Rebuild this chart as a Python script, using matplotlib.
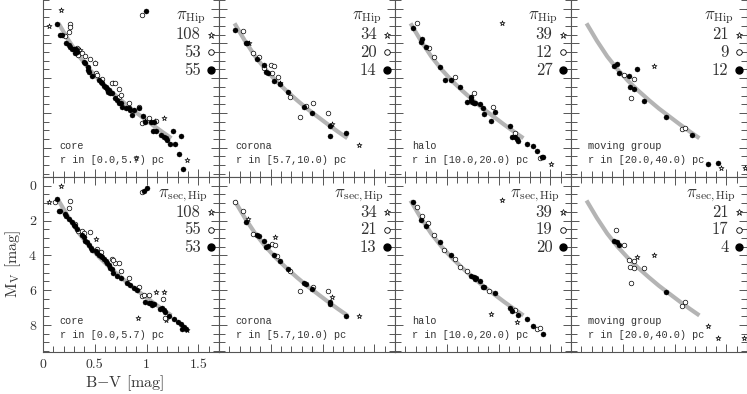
"""
Colour-magnitude diagrams: core / corona / halo / moving group,
top row with Hipparcos parallaxes, bottom row with secular parallaxes.
"""

import numpy as np
import matplotlib
matplotlib.use("Agg")
import matplotlib.pyplot as plt
from matplotlib.ticker import MultipleLocator

plt.rcParams["font.family"] = "serif"
plt.rcParams["font.serif"] = ["cmr10", "DejaVu Serif"]
plt.rcParams["mathtext.fontset"] = "cm"
plt.rcParams["axes.unicode_minus"] = False
plt.rcParams["axes.formatter.use_mathtext"] = True

# ---- reference isochrone (grey curve) ----
ISO_BV = [0.15, 0.25, 0.35, 0.45, 0.55, 0.65, 0.75, 0.85, 0.95, 1.05, 1.15, 1.24]
ISO_MV = [0.85, 1.85, 2.75, 3.50, 4.15, 4.72, 5.25, 5.75, 6.20, 6.65, 7.08, 7.45]

# ---- (B-V, M_V) ----
# top row: pi_Hip
core_hip_fill = [(0.136, 0.89), (0.168, 1.52), (0.18, 1.52), (0.223, 1.97), (0.25, 2.1), (0.265, 2.2),
                 (0.28, 2.35), (0.30, 2.35), (0.32, 2.35), (0.31, 2.57), (0.33, 2.48), (0.395, 3.06),
                 (0.41, 3.11), (0.43, 3.34), (0.437, 3.53), (0.444, 3.63), (0.47, 3.88), (0.54, 4.11),
                 (0.556, 4.2), (0.573, 4.26), (0.59, 4.45), (0.605, 4.53), (0.62, 4.64), (0.64, 4.68),
                 (0.65, 4.84), (0.63, 4.78), (0.67, 4.87), (0.70, 5.16), (0.715, 5.26), (0.73, 5.45),
                 (0.75, 5.45), (0.76, 5.64), (0.80, 5.74), (0.83, 5.74), (0.845, 5.83), (0.877, 5.83),
                 (0.925, 5.7), (0.86, 6.12), (0.968, 6.16), (0.99, 6.5), (1.04, 6.5), (1.07, 6.5),
                 (1.065, 7.04), (1.09, 7.02), (1.136, 7.27), (1.168, 7.4), (1.184, 7.46), (1.2, 7.56),
                 (1.23, 7.79), (1.275, 7.77), (1.26, 7.04), (1.33, 7.33), (1.31, 8.37), (1.35, 9.2),
                 (0.997, 0.14)]
core_hip_open = [(0.265, 0.9), (0.265, 1.05), (0.255, 1.33), (0.21, 1.58), (0.33, 2.25), (0.34, 2.67),
                 (0.38, 2.57), (0.405, 2.73), (0.45, 2.92), (0.505, 3.11), (0.51, 3.72), (0.52, 3.82),
                 (0.566, 4.07), (0.67, 4.26), (0.70, 4.3), (0.735, 4.64), (0.73, 5.07), (0.75, 4.97),
                 (0.83, 5.45), (0.925, 5.64), (0.958, 6.6), (1.02, 6.31), (1.087, 6.47), (0.958, 0.37)]
core_hip_star = [(0.178, 0.1), (0.055, 1.0), (0.50, 3.15), (0.68, 4.3), (1.168, 6.28), (0.90, 8.6),
                 (1.395, 8.7), (0.99, 6.45), (1.078, 6.45), (0.36, 2.4), (0.6, 4.5)]

corona_hip_fill = [(0.155, 1.24), (0.262, 1.96), (0.272, 2.0), (0.366, 2.92), (0.43, 3.25), (0.456, 3.63),
                   (0.473, 3.69), (0.527, 4.15), (0.585, 4.34), (0.667, 4.78), (0.822, 5.68), (0.9, 5.99),
                   (1.07, 6.75), (1.07, 7.33), (1.223, 7.17)]
corona_hip_open = [(0.23, 1.27), (0.327, 2.54), (0.39, 2.8), (0.43, 3.44), (0.505, 3.25), (0.53, 3.3),
                   (0.515, 3.72), (0.57, 3.95), (0.683, 5.1), (0.845, 5.6), (0.786, 6.22), (0.91, 5.45),
                   (1.055, 5.99)]
corona_hip_star = [(0.285, 2.0), (0.585, 4.3), (1.094, 6.64), (1.352, 7.84)]

halo_hip_fill = [(0.172, 1.14), (0.252, 1.91), (0.26, 1.77), (0.3, 2.19), (0.437, 3.38), (0.479, 4.11),
                 (0.537, 4.11), (0.624, 4.53), (0.73, 5.1), (0.738, 5.26), (0.745, 5.36), (0.764, 5.41),
                 (0.777, 5.41), (0.70, 5.36), (0.818, 5.49), (0.85, 5.74), (0.86, 6.06), (0.925, 6.45),
                 (0.964, 5.93), (1.11, 6.75), (1.126, 7.4), (1.16, 7.37), (1.175, 7.52), (1.19, 7.6),
                 (1.272, 7.79), (1.337, 7.88), (1.375, 8.17), (1.417, 8.52), (1.434, 8.52)]
halo_hip_open = [(0.214, 0.81), (0.327, 2.29), (0.372, 2.8), (0.576, 3.95), (0.764, 4.87), (0.948, 5.64),
                 (1.16, 7.17), (1.4, 8.61)]
halo_hip_star = [(1.035, 0.81), (1.505, 8.95)]

mg_hip_fill = [(0.417, 3.3), (0.443, 3.19), (0.466, 3.69), (0.556, 3.88), (0.638, 3.48), (0.566, 4.53),
               (0.612, 4.64), (0.702, 5.3), (0.922, 6.22), (1.172, 7.27), (1.327, 8.95), (1.424, 8.9)]
mg_hip_open = [(0.515, 3.82), (0.612, 4.07), (0.583, 5.13), (1.068, 6.94), (1.097, 6.89)]
mg_hip_star = [(0.8, 3.29), (1.447, 9.18), (1.68, 9.18)]

# bottom row: pi_sec,Hip
core_sec_fill = [(0.136, 0.77), (0.168, 1.44), (0.158, 1.47), (0.217, 1.63), (0.223, 1.72), (0.25, 1.92),
                 (0.28, 2.11), (0.30, 2.26), (0.31, 2.34), (0.33, 2.49), (0.38, 2.83), (0.395, 2.97),
                 (0.41, 3.16), (0.427, 3.26), (0.444, 3.41), (0.46, 3.55), (0.476, 3.68), (0.51, 3.74),
                 (0.524, 3.87), (0.54, 3.98), (0.556, 4.02), (0.573, 4.12), (0.59, 4.21), (0.605, 4.31),
                 (0.62, 4.44), (0.64, 4.56), (0.65, 4.7), (0.67, 4.79), (0.68, 5.02), (0.715, 5.17),
                 (0.75, 5.3), (0.81, 5.59), (0.845, 5.72), (0.877, 5.88), (0.91, 5.98), (0.99, 6.65),
                 (1.02, 6.74), (1.055, 6.84), (1.07, 6.82), (1.13, 7.07), (1.15, 7.0), (1.168, 7.15),
                 (1.18, 7.25), (1.217, 7.51), (1.265, 7.64), (1.3, 7.8), (1.33, 7.92), (1.36, 8.09),
                 (1.38, 8.25), (1.347, 8.22), (0.974, 0.33), (1.007, 0.13), (1.04, 6.74)]
core_sec_open = [(0.12, 0.96), (0.265, 0.9), (0.255, 1.3), (0.31, 2.2), (0.34, 2.59), (0.38, 2.59),
                 (0.395, 2.72), (0.456, 2.68), (0.524, 3.64), (0.556, 3.79), (0.67, 4.21), (0.70, 4.44),
                 (0.73, 4.44), (0.68, 4.25), (0.75, 4.9), (0.83, 5.3), (0.925, 5.79), (0.96, 6.36),
                 (0.975, 6.3), (1.02, 6.3), (1.16, 6.5), (1.175, 7.57), (0.958, 0.38)]
core_sec_star = [(0.178, 0.03), (0.055, 0.93), (0.51, 3.04), (1.087, 6.11), (1.168, 6.13), (1.185, 7.7),
                 (0.92, 7.62), (1.395, 8.3)]

corona_sec_fill = [(0.262, 2.11), (0.366, 2.82), (0.382, 2.87), (0.43, 3.2), (0.456, 3.52), (0.473, 3.49),
                   (0.527, 4.0), (0.585, 4.31), (0.667, 4.79), (0.822, 5.59), (0.845, 5.63), (0.9, 5.94),
                   (1.068, 6.7), (1.07, 6.8), (1.223, 7.47)]
corona_sec_open = [(0.155, 0.94), (0.23, 1.44), (0.327, 2.78), (0.51, 3.33), (0.544, 3.41), (0.563, 4.02),
                   (0.686, 4.89), (0.786, 6.07), (1.055, 6.07), (0.91, 5.84)]
corona_sec_star = [(0.278, 1.92), (0.544, 2.95), (1.094, 6.4), (1.352, 7.51)]

halo_sec_fill = [(0.172, 0.96), (0.252, 1.95), (0.3, 2.34), (0.437, 3.26), (0.537, 3.97), (0.738, 5.17),
                 (0.764, 5.25), (0.777, 5.36), (0.786, 5.3), (0.818, 5.5), (0.85, 5.79), (0.86, 5.82),
                 (0.964, 6.17), (1.11, 7.03), (1.126, 7.22), (1.19, 7.41), (1.272, 7.66), (1.337, 8.05),
                 (1.427, 8.52)]
halo_sec_open = [(0.214, 1.24), (0.262, 1.76), (0.323, 2.15), (0.372, 2.82), (0.473, 3.68), (0.576, 4.21),
                 (0.624, 4.64), (0.70, 4.92), (0.91, 6.02), (1.16, 7.13), (1.375, 8.22), (1.4, 8.16)]
halo_sec_star = [(1.035, 0.8), (0.925, 7.36), (1.175, 7.8)]

mg_sec_fill = [(0.417, 3.16), (0.443, 3.26), (0.466, 3.39), (0.922, 6.13)]
mg_sec_open = [(0.437, 2.57), (0.508, 3.43), (0.556, 4.25), (0.612, 4.35), (0.566, 4.69), (0.612, 4.73),
               (0.702, 4.73), (0.583, 5.59), (1.068, 6.9), (1.097, 6.7)]
mg_sec_star = [(0.638, 4.1), (0.8, 3.97), (1.327, 8.05), (1.424, 8.75), (1.675, 8.72)]

# legend counts per panel (star, open, filled)
COUNTS_HIP = [(108, 53, 55), (34, 20, 14), (39, 12, 27), (21, 9, 12)]
COUNTS_SEC = [(108, 55, 53), (34, 21, 13), (39, 19, 20), (21, 17, 4)]
REGION_NAMES = ["core", "corona", "halo", "moving group"]
REGION_RANGES = ["r in [0.0,5.7) pc", "r in [5.7,10.0) pc",
                 "r in [10.0,20.0) pc", "r in [20.0,40.0) pc"]
TITLE_HIP = r"$\pi_{\rm Hip}$"
TITLE_SEC = r"$\pi_{\rm sec,Hip}$"

TOP_DATA = [(core_hip_star, core_hip_open, core_hip_fill),
            (corona_hip_star, corona_hip_open, corona_hip_fill),
            (halo_hip_star, halo_hip_open, halo_hip_fill),
            (mg_hip_star, mg_hip_open, mg_hip_fill)]
BOT_DATA = [(core_sec_star, core_sec_open, core_sec_fill),
            (corona_sec_star, corona_sec_open, corona_sec_fill),
            (halo_sec_star, halo_sec_open, halo_sec_fill),
            (mg_sec_star, mg_sec_open, mg_sec_fill)]

AX_COL = "#555555"
TXT_COL = "#333333"


def xy(pts):
    a = np.array(pts, dtype=float)
    return a[:, 0], a[:, 1]


def draw_panel(ax, data, counts, title, name, rng, title_x):
    ax.plot(ISO_BV, ISO_MV, color="#b4b4b4", lw=3.0, solid_capstyle="butt", zorder=1)
    star, opn, fil = data
    x, y = xy(star)
    ax.scatter(x, y, marker="*", s=14, facecolors="white", edgecolors="black", linewidths=0.5, zorder=2)
    x, y = xy(opn)
    ax.scatter(x, y, marker="o", s=11, facecolors="white", edgecolors="black", linewidths=0.5, zorder=3)
    x, y = xy(fil)
    ax.scatter(x, y, marker="o", s=13, facecolors="black", edgecolors="black", linewidths=0.3, zorder=4)

    # legend block
    ax.text(title_x, 0.895, title, transform=ax.transAxes, fontsize=12, color=TXT_COL,
            ha="left", va="center")
    ys = [0.80, 0.70, 0.60]
    for yy, n in zip(ys, counts):
        ax.text(0.895, yy, str(n), transform=ax.transAxes, fontsize=12, color=TXT_COL,
                ha="right", va="center")
    ax.plot([0.955], [ys[0]], transform=ax.transAxes, marker="*", ms=4.5, mfc="white",
            mec="black", mew=0.5, clip_on=False)
    ax.plot([0.955], [ys[1]], transform=ax.transAxes, marker="o", ms=4.0, mfc="white",
            mec="black", mew=0.6, clip_on=False)
    ax.plot([0.955], [ys[2]], transform=ax.transAxes, marker="o", ms=5.0, mfc="black",
            mec="black", clip_on=False)

    ax.text(0.095, 0.175, name, transform=ax.transAxes, fontsize=7.3, family="Liberation Mono",
            color=TXT_COL, ha="left", va="center")
    ax.text(0.095, 0.095, rng, transform=ax.transAxes, fontsize=7.3, family="Liberation Mono",
            color=TXT_COL, ha="left", va="center")


def style_axes(ax, top_row, show_labels):
    ax.set_xlim(0.0, 1.7)
    if top_row:
        ax.set_ylim(9.68, -0.55)
    else:
        ax.set_ylim(9.55, -0.5)
    ax.xaxis.set_major_locator(MultipleLocator(0.5))
    ax.xaxis.set_minor_locator(MultipleLocator(0.1))
    ax.yaxis.set_major_locator(MultipleLocator(2))
    ax.yaxis.set_minor_locator(MultipleLocator(0.5))
    ax.tick_params(which="both", direction="in", top=not top_row, right=True,
                   color=AX_COL, width=0.7, labelsize=10, labelcolor=TXT_COL)
    ax.tick_params(which="major", length=6)
    ax.tick_params(which="minor", length=4.5)
    ax.tick_params(axis="x", pad=5)
    ax.tick_params(axis="y", pad=5)
    for sp in ax.spines.values():
        sp.set_color(AX_COL)
        sp.set_linewidth(0.8)
    if top_row:
        ax.spines["top"].set_visible(False)
    if show_labels:
        ax.set_xticks([0, 0.5, 1.0, 1.5])
        ax.set_xticklabels(["0", "0.5", "1", "1.5"])
        ax.set_yticks([0, 2, 4, 6, 8])
        ax.set_yticklabels(["0", "2", "4", "6", "8"])
    else:
        ax.tick_params(labelbottom=False, labelleft=False)


W, H = 747, 394
fig = plt.figure(figsize=(W / 100, H / 100), dpi=100)

x_edges = [43, 219, 395, 571]
pw = 176
for i in range(4):
    left = x_edges[i] / W
    # top row: from y=-1 px to 177 px
    ax_t = fig.add_axes([left, (H - 177) / H, pw / W, 178 / H])
    style_axes(ax_t, True, False)
    draw_panel(ax_t, TOP_DATA[i], COUNTS_HIP[i], TITLE_HIP, REGION_NAMES[i], REGION_RANGES[i], 0.755)
    # bottom row: from 177 px to 352 px
    ax_b = fig.add_axes([left, (H - 352) / H, pw / W, 175 / H])
    style_axes(ax_b, False, i == 0)
    draw_panel(ax_b, BOT_DATA[i], COUNTS_SEC[i], TITLE_SEC, REGION_NAMES[i], REGION_RANGES[i], 0.655)

fig.text(125 / W, (H - 383) / H, r"B$-$V [mag]", fontsize=11.5, color=TXT_COL, ha="center", va="center")
fig.text(13 / W, (H - 264) / H, r"M$_{\rm V}$ [mag]", fontsize=11.5, color=TXT_COL,
         rotation=90, ha="center", va="center")

fig.savefig("out.png", dpi=100)
